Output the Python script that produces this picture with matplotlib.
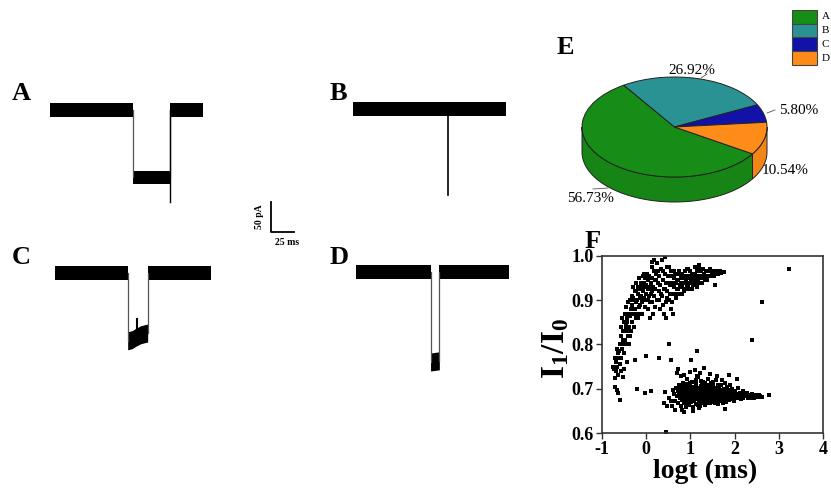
import numpy as np
import matplotlib
matplotlib.use("Agg")
import matplotlib.pyplot as plt
from matplotlib.patches import Polygon, Rectangle
from matplotlib.lines import Line2D
import matplotlib.colors as mcolors

plt.rcParams['font.family'] = ['Liberation Serif', 'DejaVu Serif']
plt.rcParams['mathtext.fontset'] = 'custom'
plt.rcParams['mathtext.rm'] = 'Liberation Serif'
plt.rcParams['mathtext.bf'] = 'Liberation Serif:bold'
plt.rcParams['mathtext.it'] = 'Liberation Serif:italic'
plt.rcParams['axes.unicode_minus'] = False

# ---------------- data ----------------
# current traces (time in ms, current in pA, relative to open-pore level)
A_time = [0, 90, 90, 130, 130, 166]
A_current = [0, 0, -112, -112, 0, 0]
A_spike = (130, -153)

B_time = [0, 166]
B_current = [0, 0]
B_spike = (103, -144)

C_time = [0, 79, 79, 84, 88, 93, 100.7, 100.7, 169.6]
C_current = [0, 0, -113, -111, -107, -103, -100, 0, 0]
C_spike = (89.5, -76)

D_time = [0, 81, 81, 90.6, 90.6, 166]
D_current = [0, 0, -150, -148, 0, 0]

scale_ms = 25
scale_pa = 50

# pie (event types)
pie_labels = ['A', 'B', 'C', 'D']
pie_values = [56.73, 26.92, 5.80, 10.54]
pie_colors = ['#178c17', '#2a9292', '#1212a8', '#ff8c18']

# scatter: log(dwell time) vs I1/I0
upper_pts = [
    (-0.74, 0.75), (-0.72, 0.745), (-0.70, 0.705), (-0.70, 0.725), (-0.68, 0.76), (-0.66, 0.697),
    (-0.64, 0.78), (-0.63, 0.69), (-0.63, 0.73), (-0.62, 0.77), (-0.60, 0.80), (-0.59, 0.675),
    (-0.60, 0.755), (-0.58, 0.82), (-0.57, 0.77), (-0.56, 0.84), (-0.55, 0.79), (-0.54, 0.86),
    (-0.52, 0.81), (-0.52, 0.727), (-0.51, 0.745), (-0.50, 0.85), (-0.49, 0.83), (-0.48, 0.87),
    (-0.47, 0.80), (-0.46, 0.885), (-0.45, 0.845), (-0.44, 0.76), (-0.43, 0.86), (-0.42, 0.82),
    (-0.41, 0.895), (-0.40, 0.87), (-0.39, 0.84), (-0.38, 0.80), (-0.37, 0.90), (-0.36, 0.865),
    (-0.35, 0.88), (-0.34, 0.83), (-0.33, 0.91), (-0.32, 0.85), (-0.31, 0.89), (-0.30, 0.87),
    (-0.29, 0.93), (-0.28, 0.90), (-0.27, 0.84), (-0.26, 0.88), (-0.25, 0.92), (-0.24, 0.86),
    (-0.23, 0.895), (-0.22, 0.94), (-0.21, 0.90), (-0.20, 0.87), (-0.19, 0.915), (-0.18, 0.93),
    (-0.17, 0.885), (-0.16, 0.95), (-0.15, 0.905), (-0.14, 0.925), (-0.13, 0.87), (-0.12, 0.94),
    (-0.11, 0.91), (-0.10, 0.93), (-0.09, 0.895), (-0.08, 0.955), (-0.07, 0.92), (-0.06, 0.94),
    (-0.05, 0.905), (-0.04, 0.93), (-0.03, 0.885), (-0.02, 0.95), (-0.01, 0.915), (0.00, 0.935),
    (0.01, 0.90), (0.02, 0.96), (0.03, 0.925), (0.04, 0.945), (0.05, 0.88), (0.06, 0.91),
    (0.07, 0.955), (0.08, 0.93), (0.09, 0.86), (0.10, 0.94), (0.11, 0.915), (0.12, 0.975),
    (0.12, 0.987), (0.13, 0.895), (0.14, 0.95), (0.15, 0.93), (0.16, 0.87), (0.17, 0.99),
    (0.18, 0.91), (0.19, 0.945), (0.20, 0.925), (0.22, 0.96), (0.24, 0.90), (0.25, 0.985),
    (0.26, 0.94), (0.28, 0.92), (0.30, 0.955), (0.31, 0.88), (0.32, 0.935), (0.34, 0.97),
    (0.35, 0.91), (0.36, 0.99), (0.38, 0.945), (0.40, 0.925), (0.41, 0.87), (0.42, 0.96),
    (0.43, 0.998), (0.44, 0.895), (0.45, 0.94), (0.46, 0.975), (0.48, 0.92), (0.50, 0.955),
    (0.52, 0.90), (0.53, 0.935), (0.55, 0.965), (0.56, 0.88), (0.58, 0.94), (0.60, 0.915),
    (0.62, 0.95), (0.64, 0.93), (0.66, 0.96), (0.68, 0.905), (0.70, 0.945), (0.72, 0.925),
    (0.74, 0.965), (0.76, 0.935), (0.78, 0.95), (0.80, 0.915), (0.82, 0.96), (0.84, 0.94),
    (0.86, 0.955), (0.88, 0.925), (0.90, 0.945), (0.92, 0.97), (0.94, 0.93), (0.96, 0.955),
    (0.98, 0.94), (1.00, 0.965), (1.02, 0.945), (1.04, 0.925), (1.06, 0.96), (1.08, 0.94),
    (1.10, 0.975), (1.12, 0.95), (1.14, 0.93), (1.16, 0.965), (1.18, 0.945), (1.20, 0.98),
    (1.22, 0.955), (1.24, 0.94), (1.26, 0.97), (1.28, 0.95), (1.30, 0.96), (1.33, 0.945),
    (1.36, 0.965), (1.40, 0.955), (1.44, 0.97), (1.48, 0.96), (1.52, 0.965), (1.56, 0.935),
    (1.60, 0.96), (1.66, 0.965), (1.72, 0.963),
    (-0.71, 0.77), (-0.69, 0.74), (-0.67, 0.79), (-0.65, 0.75), (-0.61, 0.785), (-0.58, 0.74),
    (-0.56, 0.80), (-0.53, 0.83), (-0.50, 0.78), (-0.48, 0.81), (-0.46, 0.835), (-0.44, 0.85),
    (-0.40, 0.83), (-0.36, 0.82), (-0.33, 0.87), (-0.30, 0.905), (-0.27, 0.87), (-0.23, 0.92),
    (-0.20, 0.90), (-0.18, 0.86), (-0.14, 0.89), (-0.10, 0.87), (-0.06, 0.96), (-0.04, 0.90),
    (0.00, 0.96), (0.04, 0.90), (0.08, 0.895), (0.13, 0.92), (0.18, 0.965), (0.21, 0.885),
    (0.23, 0.945), (0.27, 0.965), (0.29, 0.90), (0.33, 0.915), (0.37, 0.89), (0.39, 0.965),
    (0.43, 0.925), (0.47, 0.905), (0.49, 0.94), (0.51, 0.975), (0.54, 0.915), (0.57, 0.955),
    (0.59, 0.895), (0.61, 0.935), (0.63, 0.965), (0.65, 0.915), (0.67, 0.94), (0.69, 0.925),
    (0.71, 0.96), (0.73, 0.945), (0.75, 0.915), (0.77, 0.96), (0.79, 0.94), (0.81, 0.93),
    (0.83, 0.95), (0.85, 0.92), (0.87, 0.965), (0.89, 0.94), (0.91, 0.955), (0.93, 0.935),
    (0.95, 0.97), (0.97, 0.925), (0.99, 0.95), (1.01, 0.94), (1.03, 0.96), (1.05, 0.935),
    (1.07, 0.955), (1.09, 0.945), (1.11, 0.96), (1.13, 0.94), (1.15, 0.955), (1.17, 0.975),
    (1.19, 0.95), (1.21, 0.94), (1.23, 0.965), (1.25, 0.955), (1.27, 0.94), (1.29, 0.97),
    (1.31, 0.95), (1.35, 0.955), (1.38, 0.945), (1.42, 0.965), (1.46, 0.955), (1.50, 0.96),
    (1.54, 0.955), (1.58, 0.965), (1.63, 0.96), (1.69, 0.962), (1.76, 0.964), (0.45, 0.86),
    (0.60, 0.87), (1.55, 0.935),
]
lower_pts = [
    (0.62, 0.688), (0.66, 0.672), (0.68, 0.701), (0.70, 0.683), (0.72, 0.694), (0.73, 0.667),
    (0.75, 0.709), (0.76, 0.679), (0.78, 0.689), (0.79, 0.662), (0.80, 0.698), (0.82, 0.675),
    (0.83, 0.712), (0.84, 0.684), (0.86, 0.668), (0.87, 0.693), (0.88, 0.703), (0.89, 0.678),
    (0.90, 0.659), (0.91, 0.687), (0.92, 0.721), (0.93, 0.672), (0.94, 0.696), (0.95, 0.682),
    (0.96, 0.706), (0.97, 0.664), (0.98, 0.690), (0.99, 0.676), (1.00, 0.700), (1.01, 0.685),
    (1.02, 0.669), (1.03, 0.715), (1.04, 0.693), (1.05, 0.678), (1.06, 0.704), (1.07, 0.658),
    (1.08, 0.688), (1.09, 0.672), (1.10, 0.697), (1.11, 0.681), (1.12, 0.710), (1.13, 0.666),
    (1.14, 0.691), (1.15, 0.676), (1.16, 0.702), (1.17, 0.685), (1.18, 0.726), (1.19, 0.670),
    (1.20, 0.695), (1.21, 0.680), (1.22, 0.662), (1.23, 0.706), (1.24, 0.689), (1.25, 0.674),
    (1.26, 0.699), (1.27, 0.684), (1.28, 0.716), (1.29, 0.668), (1.30, 0.692), (1.31, 0.678),
    (1.32, 0.703), (1.33, 0.687), (1.34, 0.663), (1.35, 0.696), (1.36, 0.681), (1.37, 0.709),
    (1.38, 0.672), (1.39, 0.690), (1.40, 0.722), (1.41, 0.677), (1.42, 0.700), (1.43, 0.685),
    (1.44, 0.667), (1.45, 0.694), (1.46, 0.680), (1.47, 0.712), (1.48, 0.688), (1.49, 0.673),
    (1.50, 0.698), (1.51, 0.683), (1.52, 0.706), (1.53, 0.669), (1.54, 0.692), (1.55, 0.678),
    (1.56, 0.701), (1.57, 0.686), (1.58, 0.719), (1.59, 0.674), (1.60, 0.695), (1.61, 0.681),
    (1.62, 0.666), (1.63, 0.690), (1.64, 0.704), (1.65, 0.677), (1.66, 0.688), (1.67, 0.697),
    (1.68, 0.672), (1.69, 0.684), (1.70, 0.709), (1.71, 0.679), (1.72, 0.692), (1.73, 0.668),
    (1.74, 0.686), (1.75, 0.700), (1.76, 0.676), (1.77, 0.689), (1.78, 0.714), (1.79, 0.681),
    (1.80, 0.695), (1.81, 0.671), (1.82, 0.685), (1.83, 0.703), (1.84, 0.678), (1.85, 0.690),
    (1.86, 0.682), (1.87, 0.697), (1.88, 0.674), (1.89, 0.687), (1.90, 0.708), (1.91, 0.680),
    (1.92, 0.692), (1.93, 0.676), (1.94, 0.686), (1.95, 0.699), (1.96, 0.681), (1.97, 0.690),
    (1.98, 0.673), (2.00, 0.685), (2.02, 0.694), (2.04, 0.679), (2.06, 0.688), (2.08, 0.702),
    (2.10, 0.682), (2.12, 0.690), (2.14, 0.676), (2.16, 0.686), (2.18, 0.695), (2.20, 0.680),
    (2.22, 0.688), (2.25, 0.683), (2.28, 0.691), (2.31, 0.678), (2.34, 0.686), (2.37, 0.682),
    (2.40, 0.689), (2.44, 0.680), (2.48, 0.685), (2.52, 0.682), (2.57, 0.684), (2.62, 0.681),
    (2.78, 0.686),
    (0.81, 0.686), (0.85, 0.697), (0.89, 0.690), (0.93, 0.681), (0.97, 0.692), (1.01, 0.674),
    (1.05, 0.691), (1.09, 0.683), (1.13, 0.696), (1.17, 0.679), (1.21, 0.690), (1.25, 0.685),
    (1.29, 0.697), (1.33, 0.676), (1.37, 0.690), (1.41, 0.684), (1.45, 0.680), (1.49, 0.692),
    (1.53, 0.686), (1.57, 0.675), (1.61, 0.693), (1.65, 0.684), (1.69, 0.691), (1.73, 0.680),
    (1.77, 0.684), (0.95, 0.668), (1.15, 0.665), (1.35, 0.672), (1.55, 0.668), (1.00, 0.712),
    (1.24, 0.718), (1.44, 0.704), (1.62, 0.708),
    (0.75, 0.690), (0.79, 0.680), (0.83, 0.695), (0.87, 0.677), (0.91, 0.701), (0.95, 0.689),
    (0.99, 0.683), (1.03, 0.697), (1.07, 0.680), (1.11, 0.690), (1.15, 0.686), (1.19, 0.699),
    (1.23, 0.676), (1.27, 0.692), (1.31, 0.688), (1.35, 0.683), (1.39, 0.698), (1.43, 0.675),
    (1.47, 0.690), (1.51, 0.679), (1.55, 0.694), (1.59, 0.686), (1.63, 0.677), (1.67, 0.681),
    (1.71, 0.694), (1.75, 0.683), (1.79, 0.688), (1.83, 0.680), (1.87, 0.686), (1.91, 0.691),
    (1.95, 0.684), (1.99, 0.688), (2.03, 0.683), (2.07, 0.680), (2.11, 0.686), (2.15, 0.683),
    (2.19, 0.689), (2.24, 0.685), (2.29, 0.684), (2.35, 0.680), (2.42, 0.684), (2.55, 0.686),
    (0.88, 0.672), (1.02, 0.704), (1.18, 0.664), (1.26, 0.708), (1.40, 0.668), (1.58, 0.697),
    (1.70, 0.674), (1.86, 0.697), (0.92, 0.710), (1.12, 0.720), (1.34, 0.713), (1.52, 0.716),
    (0.77, 0.700), (0.84, 0.705),
    (0.70, 0.735), (0.72, 0.745), (0.78, 0.728), (0.98, 0.738), (1.10, 0.742), (1.22, 0.735),
    (1.30, 0.748), (1.45, 0.733), (1.60, 0.728), (1.88, 0.730), (2.05, 0.722), (1.02, 0.765),
    (0.85, 0.732), (1.15, 0.728), (1.72, 0.720),
    (0.40, 0.668), (0.42, 0.692), (0.48, 0.660), (0.52, 0.680), (0.55, 0.672), (0.58, 0.662),
    (0.60, 0.698), (0.65, 0.652), (0.80, 0.652), (0.85, 0.648), (1.05, 0.650), (1.20, 0.656),
    (1.78, 0.655), (0.45, 0.603),
]
outlier_pts = [
    (0.00, 0.775), (-0.25, 0.765), (0.30, 0.77), (0.52, 0.80), (0.55, 0.765), (1.15, 0.785),
    (0.10, 0.695), (-0.20, 0.70), (-0.02, 0.69), (2.40, 0.81), (2.62, 0.895), (3.22, 0.97),
]
x_ticks = [-1, 0, 1, 2, 3, 4]
y_ticks = [0.6, 0.7, 0.8, 0.9, 1.0]

# ---------------- figure ----------------
W, H = 831, 488
fig = plt.figure(figsize=(W / 100, H / 100), dpi=100)


def fx(px):
    return px / W


def fy(py):
    return 1 - py / H


PX_PER_MS = 23 / scale_ms
PX_PER_PA = 30 / scale_pa


def trace_axes(x0, base, width, top, bottom):
    ax = fig.add_axes([fx(x0), fy(bottom), width / W, (bottom - top) / H])
    ax.set_xlim(0, width / PX_PER_MS)
    ax.set_ylim(-(bottom - base) / PX_PER_PA, (base - top) / PX_PER_PA)
    ax.axis('off')
    return ax


def draw_trace(ax, t, c, open_hw=11.0, block_hw=11.0):
    t = np.asarray(t, float)
    c = np.asarray(c, float)
    runs = []
    run = [0]
    for i in range(1, len(t)):
        if t[i] == t[i - 1]:
            runs.append(run)
            ax.plot([t[i], t[i]], [c[i - 1], c[i]], color='#555555', lw=0.9, clip_on=False)
            run = [i]
        else:
            run.append(i)
    runs.append(run)
    for r in runs:
        rt, rc = t[r], c[r]
        hw = open_hw if np.all(rc == 0) else block_hw
        ax.fill_between(rt, rc - hw, rc + hw, color='black', linewidth=0, clip_on=False)


axA = trace_axes(50, 110, 160, 95, 215)
draw_trace(axA, A_time, A_current)
axA.plot([A_spike[0], A_spike[0]], [0, A_spike[1]], color='black', lw=1.0, clip_on=False)

axB = trace_axes(353, 109, 160, 95, 215)
draw_trace(axB, B_time, B_current)
axB.plot([B_spike[0], B_spike[0]], [0, B_spike[1]], color='black', lw=1.2, clip_on=False)

axC = trace_axes(55, 273, 160, 258, 370)
draw_trace(axC, C_time, C_current, block_hw=15)
axC.plot([C_spike[0], C_spike[0]], [-104, C_spike[1]], color='black', lw=1.5, clip_on=False)

axD = trace_axes(356, 272, 160, 258, 380)
draw_trace(axD, D_time, D_current, block_hw=15)

# scale bar
axS = trace_axes(271, 231.7, 30, 195, 235)
axS.plot([0, 0, scale_ms], [scale_pa, 0, 0], color='black', lw=1.3, clip_on=False)
fig.text(fx(260), fy(217), f'{scale_pa} pA', rotation=90, ha='center', va='center',
         fontsize=7, fontweight='bold')
fig.text(fx(287), fy(242), f'{scale_ms} ms', ha='center', va='center',
         fontsize=7, fontweight='bold')

# panel letters
for letter, (px, py) in {'A': (12, 93), 'B': (330, 93), 'C': (12, 257), 'D': (330, 257),
                         'E': (557, 47), 'F': (585, 241)}.items():
    fig.text(fx(px), fy(py), letter, ha='left', va='center', fontsize=19, fontweight='bold')

# ---------------- 3D-looking pie ----------------
cx, cy, rx, ry, depth_px = 674.5, 127, 92.5, 50, 25
ax_pie = fig.add_axes([fx(565), fy(220), (795 - 565) / W, (220 - 55) / H])
wedges, _ = ax_pie.pie(pie_values, colors=pie_colors, startangle=-32.5, counterclock=False,
                       wedgeprops=dict(edgecolor='#222222', linewidth=0.7))
ax_pie.set_aspect('auto')
ax_pie.set_xlim((565 - cx) / rx, (795 - cx) / rx)
ax_pie.set_ylim((cy - 220) / ry, (cy - 55) / ry)
depth = depth_px / ry
for w, col in zip(wedges, pie_colors):
    a1, a2 = w.theta1, w.theta2
    for k in (-1, 0, 1):
        lo, hi = max(a1, -180 + 360 * k), min(a2, 360 * k)
        if hi > lo:
            th = np.radians(np.linspace(lo, hi, 80))
            xs = np.cos(th)
            ys = np.sin(th)
            verts = np.concatenate([np.column_stack([xs, ys]),
                                    np.column_stack([xs[::-1], ys[::-1] - depth])])
            side = tuple(np.array(mcolors.to_rgb(col)) * 0.95)
            ax_pie.add_patch(Polygon(verts, closed=True, facecolor=side, edgecolor='#222222',
                                     linewidth=0.7, zorder=0.5))

# percentage labels
fig.text(fx(692), fy(70), f'{pie_values[1]:.2f}%', ha='center', va='center', fontsize=11)
fig.text(fx(779), fy(111), f'{pie_values[2]:.2f}%', ha='left', va='center', fontsize=11)
fig.text(fx(762), fy(171), f'{pie_values[3]:.2f}%', ha='left', va='center', fontsize=11)
fig.text(fx(567), fy(199), f'{pie_values[0]:.2f}%', ha='left', va='center', fontsize=11)
for (x1, y1, x2, y2) in [(701, 78, 707, 74), (767, 113, 775, 110), (593, 189, 608, 188)]:
    fig.add_artist(Line2D([fx(x1), fx(x2)], [fy(y1), fy(y2)], transform=fig.transFigure,
                          color='#555555', lw=0.6))

# legend
box_h = 13.75
for i, (lab, col) in enumerate(zip(pie_labels, pie_colors)):
    y0 = 10 + i * box_h
    fig.patches.append(Rectangle((fx(792), fy(y0 + box_h)), 25 / W, box_h / H,
                                 transform=fig.transFigure, facecolor=col,
                                 edgecolor='#444444', linewidth=0.8))
    fig.text(fx(822), fy(y0 + box_h / 2), lab, ha='left', va='center', fontsize=8)

# ---------------- scatter ----------------
ax_sc = fig.add_axes([fx(602), fy(433), 221 / W, 177 / H])
for pts in (upper_pts, lower_pts, outlier_pts):
    arr = np.array(pts)
    ax_sc.scatter(arr[:, 0], arr[:, 1], marker='s', s=9, color='black', linewidths=0)
ax_sc.set_xlim(-1, 4)
ax_sc.set_ylim(0.6, 1.0)
ax_sc.set_xticks(x_ticks)
ax_sc.set_xticklabels([str(v) for v in x_ticks])
ax_sc.set_yticks(y_ticks)
ax_sc.set_yticklabels([f'{v:.1f}' for v in y_ticks])
ax_sc.tick_params(direction='out', length=4, width=1, color='#333333', labelsize=13, pad=2)
for lab in ax_sc.get_xticklabels() + ax_sc.get_yticklabels():
    lab.set_fontweight('bold')
for sp in ax_sc.spines.values():
    sp.set_color('#333333')
    sp.set_linewidth(1.2)
fig.text(fx(556), fy(348), r'$\mathbf{I_1/I_0}$', rotation=90, ha='center', va='center',
         fontsize=24)
fig.text(fx(705), fy(471), 'logt (ms)', ha='center', va='center', fontsize=20,
         fontweight='bold')

fig.savefig('out.png', dpi=100)
